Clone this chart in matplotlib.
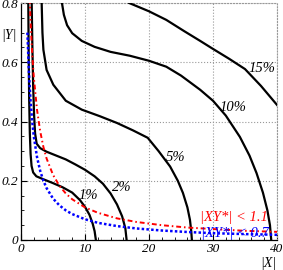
import matplotlib
matplotlib.use('Agg')
import matplotlib.pyplot as plt
from matplotlib.ticker import MultipleLocator

plt.rcParams['font.family'] = ['Liberation Serif', 'DejaVu Serif']
plt.rcParams['font.style'] = 'italic'

# contour lines: (|X|, |Y|) from top to bottom
c1_x = [1.14, 1.2, 1.28, 1.38, 1.5, 1.65, 1.9, 2.4, 3.5, 5.0, 6.5, 8.0, 9.2, 10.0, 10.7, 11.2, 11.5, 11.7]
c1_y = [0.80, 0.62, 0.47, 0.36, 0.29, 0.25, 0.228, 0.215, 0.205, 0.192, 0.178, 0.160, 0.135, 0.112, 0.085, 0.055, 0.03, 0.0]

c2_x = [1.67, 1.78, 1.9, 2.05, 2.2, 2.45, 3.0, 4.0, 5.5, 7.0, 8.5, 10.0, 11.5, 12.8, 14.0, 15.0, 15.8, 16.3, 16.5]
c2_y = [0.80, 0.65, 0.52, 0.42, 0.36, 0.325, 0.31, 0.298, 0.285, 0.272, 0.255, 0.237, 0.215, 0.19, 0.157, 0.12, 0.08, 0.04, 0.0]

c5_x = [3.23, 3.35, 3.5, 4.0, 5.05, 7.0, 9.5, 12.3, 15.0, 17.5, 19.8, 21.5, 23.3, 24.5, 25.3, 26.0, 26.4, 26.6, 26.7]
c5_y = [0.80, 0.70, 0.642, 0.574, 0.524, 0.47, 0.44, 0.418, 0.395, 0.37, 0.345, 0.30, 0.248, 0.20, 0.159, 0.11, 0.068, 0.03, 0.0]

c10_x = [6.4, 6.7, 7.2, 8.0, 9.5, 11.5, 14.0, 17.0, 20.0, 22.7, 25.0, 28.0, 30.0, 32.0, 34.2, 35.7, 36.8, 37.8, 38.5, 38.9, 39.1]
c10_y = [0.80, 0.76, 0.725, 0.698, 0.672, 0.652, 0.635, 0.622, 0.605, 0.585, 0.555, 0.507, 0.47, 0.42, 0.348, 0.285, 0.226, 0.16, 0.10, 0.05, 0.0]

c15_x = [16.9, 20.0, 22.7, 25.5, 28.0, 30.0, 32.5, 35.0, 37.5, 40.0]
c15_y = [0.80, 0.772, 0.743, 0.705, 0.672, 0.645, 0.612, 0.577, 0.52, 0.456]

# |XY*| limit curves
lim_x = [1.0, 1.25, 1.5, 1.75, 2.0, 2.5, 3.0, 3.5, 4.0, 5.0, 6.0, 7.0, 8.0, 10.0, 12.0, 15.0, 18.0, 22.0, 26.0, 30.0, 35.0, 40.0]
red_y = [1.1, 0.88, 0.733, 0.629, 0.55, 0.44, 0.367, 0.314, 0.275, 0.22, 0.183, 0.157, 0.1375, 0.11, 0.092, 0.073, 0.061, 0.05, 0.042, 0.037, 0.031, 0.0275]
blue_y = [0.7, 0.56, 0.467, 0.4, 0.35, 0.28, 0.233, 0.2, 0.175, 0.14, 0.117, 0.1, 0.0875, 0.07, 0.058, 0.047, 0.039, 0.032, 0.027, 0.023, 0.02, 0.0175]

labels = ['1%', '2%', '5%', '10%', '15%']
label_pos = [(10.5, 0.150), (15.8, 0.177), (24.1, 0.279), (33.1, 0.448), (37.7, 0.578)]

fig = plt.figure(figsize=(2.83, 2.70), dpi=100)
ax = fig.add_axes([21/283, 30/270, 256/283, 237/270])

for xs, ys in [(c1_x, c1_y), (c2_x, c2_y), (c5_x, c5_y), (c10_x, c10_y), (c15_x, c15_y)]:
    ax.plot(xs, ys, color='black', lw=1.6, zorder=3)

ax.plot(lim_x, red_y, color='red', lw=1.4, linestyle=(0, (2.5, 1.5, 0.8, 1.5)), zorder=4)
ax.plot(lim_x, blue_y, color='blue', lw=1.8, linestyle=(0, (1, 0.9)), zorder=4)

for txt, (tx, ty) in zip(labels, label_pos):
    ax.text(tx, ty, txt, fontsize=10.5, ha='center', va='center', zorder=5)

ax.text(33.3, 0.076, '|XY*| < 1.1', color='red', fontsize=10.5, ha='center', va='center', zorder=5)
ax.text(33.4, 0.021, '|XY*| < 0.7', color='blue', fontsize=10.5, ha='center', va='center', zorder=5)

ax.set_xlim(0, 40)
ax.set_ylim(0, 0.8)
ax.xaxis.set_major_locator(MultipleLocator(10))
ax.xaxis.set_minor_locator(MultipleLocator(2))
ax.yaxis.set_major_locator(MultipleLocator(0.2))
ax.yaxis.set_minor_locator(MultipleLocator(0.05))
ax.set_xticks([0, 10, 20, 30, 40], ['0', '10', '20', '30', '40'])
ax.set_yticks([0, 0.2, 0.4, 0.6, 0.8], ['0', '0.2', '0.4', '0.6', '0.8'])
ax.tick_params(which='both', direction='in', top=False, right=False, labelsize=9.5)
ax.tick_params(which='major', length=4, width=0.8, pad=2)
ax.tick_params(which='minor', length=2.5, width=0.6)
ax.grid(True, which='major', color='#999999', linestyle=':', linewidth=0.8)

for side in ['top', 'right']:
    ax.spines[side].set_color('#999999')
    ax.spines[side].set_linestyle(':')
    ax.spines[side].set_linewidth(0.8)
for side in ['left', 'bottom']:
    ax.spines[side].set_linewidth(0.9)

fig.text(9/283, 1 - 35/270, '|Y|', fontsize=10, ha='center', va='center')
fig.text(268/283, 1 - 263/270, '|X|', fontsize=10, ha='center', va='center')

fig.savefig('out.png', dpi=100)
